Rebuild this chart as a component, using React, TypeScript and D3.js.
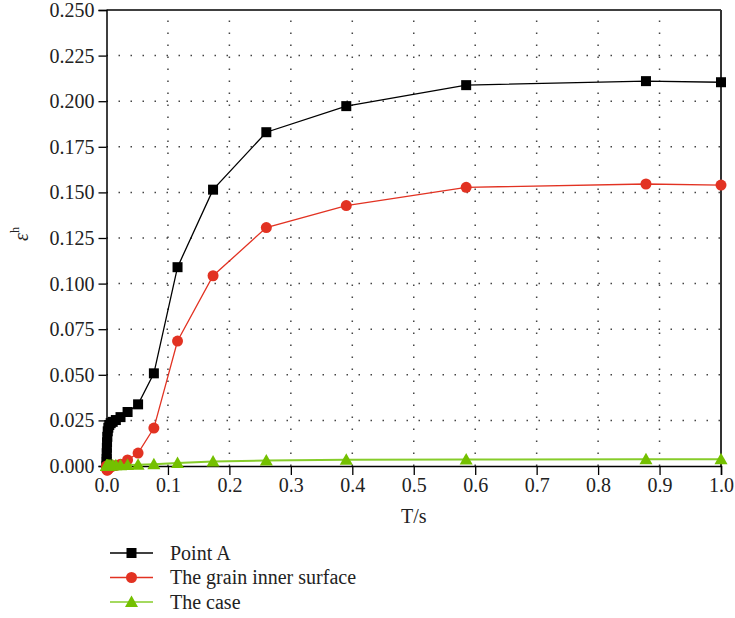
import React, { useEffect, useRef } from "react";
import * as d3 from "d3";

// time values (s)
const times = [
  0, 0.0001, 0.0002, 0.0004, 0.0006, 0.0009, 0.0013, 0.002, 0.003, 0.0045,
  0.0068, 0.0101, 0.0152, 0.0228, 0.0343, 0.0514, 0.0771, 0.1156, 0.1734,
  0.2601, 0.3902, 0.5853, 0.8779, 1.0,
];
const pointA = [
  0, 0.002, 0.004, 0.007, 0.01, 0.013, 0.016, 0.019, 0.021, 0.0225, 0.0235,
  0.0242, 0.0252, 0.0268, 0.0296, 0.0338, 0.0508, 0.109, 0.1515, 0.183,
  0.1973, 0.2088, 0.211, 0.2104,
];
const grainInner = [
  0, -0.0005, -0.001, -0.0015, -0.002, -0.0022, -0.0022, -0.002, -0.0015,
  -0.001, -0.0005, 0, 0.0003, 0.001, 0.0033, 0.0071, 0.0208, 0.0685, 0.1043,
  0.1307, 0.1428, 0.1528, 0.1546, 0.154,
];
const theCase = [
  0, 0.0001, 0.0001, 0.0002, 0.0002, 0.0002, 0.0003, 0.0003, 0.0003, 0.0003,
  0.0003, 0.0004, 0.0004, 0.0004, 0.0005, 0.0007, 0.001, 0.0017, 0.0024,
  0.003, 0.0034, 0.0036, 0.0037, 0.0037,
];
const xTicks = [0, 0.1, 0.2, 0.3, 0.4, 0.5, 0.6, 0.7, 0.8, 0.9, 1.0];
const yTicks = [0, 0.025, 0.05, 0.075, 0.1, 0.125, 0.15, 0.175, 0.2, 0.225, 0.25];

const W = 735;
const H = 618;
const plot = { left: 106.5, right: 721, top: 10, bottom: 466 };
const FONT = "'Liberation Serif', 'Times New Roman', serif";
const FS = 20;

const series = [
  { name: "Point A", values: pointA, color: "#000000", line: "#000000", shape: "square" },
  { name: "The grain inner surface", values: grainInner, color: "#e23222", line: "#e23222", shape: "circle" },
  { name: "The case", values: theCase, color: "#74c000", line: "#86cc2a", shape: "triangle" },
];

function drawMarker(g, shape, color, x, y) {
  if (shape === "square") {
    g.append("rect").attr("x", x - 5).attr("y", y - 5).attr("width", 10).attr("height", 10).attr("fill", color);
  } else if (shape === "circle") {
    g.append("circle").attr("cx", x).attr("cy", y).attr("r", 5.5).attr("fill", color);
  } else {
    g.append("path")
      .attr("d", `M${x},${y - 6.5}L${x + 6.5},${y + 5}L${x - 6.5},${y + 5}Z`)
      .attr("fill", color);
  }
}

function App() {
  const svgRef = useRef(null);

  useEffect(() => {
    const svg = d3.select(svgRef.current);
    svg.selectAll("*").remove();

    const x = d3.scaleLinear().domain([0, 1]).range([plot.left, plot.right]);
    const y = d3.scaleLinear().domain([0, 0.25]).range([plot.bottom, plot.top]);

    // grid
    const grid = svg.append("g").attr("stroke", "#444").attr("stroke-width", 1.5).attr("stroke-dasharray", "1.5,10.5");
    xTicks.slice(1, -1).forEach((t) => {
      grid.append("line").attr("x1", x(t)).attr("x2", x(t)).attr("y1", plot.bottom).attr("y2", plot.top);
    });
    yTicks.slice(1, -1).forEach((t) => {
      grid.append("line").attr("x1", plot.left).attr("x2", plot.right).attr("y1", y(t)).attr("y2", y(t));
    });

    // frame
    svg.append("line").attr("x1", plot.left).attr("x2", plot.right).attr("y1", plot.top).attr("y2", plot.top).attr("stroke", "#000").attr("stroke-width", 1.5);
    svg.append("line").attr("x1", plot.right).attr("x2", plot.right).attr("y1", plot.top).attr("y2", plot.bottom).attr("stroke", "#333").attr("stroke-width", 2);

    // x axis
    const xAxis = svg.append("g").attr("transform", `translate(0,${plot.bottom})`);
    xAxis.call(d3.axisBottom(x).tickValues(d3.range(0, 1.0001, 0.05)).tickSize(5).tickFormat(() => ""));
    xAxis.call(
      d3.axisBottom(x).tickValues(xTicks).tickSize(9).tickPadding(3).tickFormat(d3.format(".1f"))
    );
    xAxis.selectAll("path.domain").attr("stroke-width", 1.5);
    xAxis.selectAll("line").attr("stroke-width", 1.3);
    xAxis.selectAll("text").attr("font-family", FONT).attr("font-size", FS).attr("fill", "#222");

    // y axis
    const yAxis = svg.append("g").attr("transform", `translate(${plot.left},0)`);
    yAxis.call(d3.axisLeft(y).tickValues(d3.range(0, 0.2501, 0.0125)).tickSize(5).tickFormat(() => ""));
    yAxis.call(
      d3.axisLeft(y).tickValues(yTicks).tickSize(8).tickPadding(4).tickFormat(d3.format(".3f"))
    );
    yAxis.selectAll("path.domain").attr("stroke-width", 1.5);
    yAxis.selectAll("line").attr("stroke-width", 1.3);
    yAxis.selectAll("text").attr("font-family", FONT).attr("font-size", FS).attr("fill", "#222");

    // axis titles
    svg.append("text")
      .attr("x", (plot.left + plot.right) / 2)
      .attr("y", 523)
      .attr("text-anchor", "middle")
      .attr("font-family", FONT)
      .attr("font-size", FS)
      .attr("fill", "#222")
      .text("T/s");

    const yt = svg.append("text")
      .attr("transform", "translate(28,234) rotate(-90)")
      .attr("text-anchor", "middle")
      .attr("font-family", FONT)
      .attr("font-size", FS)
      .attr("fill", "#222");
    yt.append("tspan").attr("font-style", "italic").text("ε");
    yt.append("tspan").attr("font-size", 12).attr("dy", -9).text("h");

    // series
    const lineGen = d3.line().x((d) => x(d[0])).y((d) => y(d[1]));
    series.forEach((s) => {
      const pts = times.map((t, i) => [t, s.values[i]]);
      svg.append("path")
        .datum(pts)
        .attr("fill", "none")
        .attr("stroke", s.line)
        .attr("stroke-width", s.shape === "triangle" ? 2 : 1.3)
        .attr("d", lineGen);
      const mg = svg.append("g");
      pts.forEach((p) => drawMarker(mg, s.shape, s.color, x(p[0]), y(p[1])));
    });

    // legend
    series.forEach((s, i) => {
      const ly = 553 + i * 24.5;
      const lg = svg.append("g");
      lg.append("line").attr("x1", 110).attr("x2", 153).attr("y1", ly).attr("y2", ly).attr("stroke", s.line).attr("stroke-width", s.shape === "triangle" ? 1.5 : 1.3);
      drawMarker(lg, s.shape, s.color, 131.5, ly);
      lg.append("text")
        .attr("x", 170)
        .attr("y", ly + 6.5)
        .attr("font-family", FONT)
        .attr("font-size", FS)
        .attr("fill", "#222")
        .text(s.name);
    });
  }, []);

  return (
    <svg
      ref={svgRef}
      width={W}
      height={H}
      style={{ position: "absolute", left: 0, top: 0, background: "#fff" }}
    />
  );
}

export default App;
